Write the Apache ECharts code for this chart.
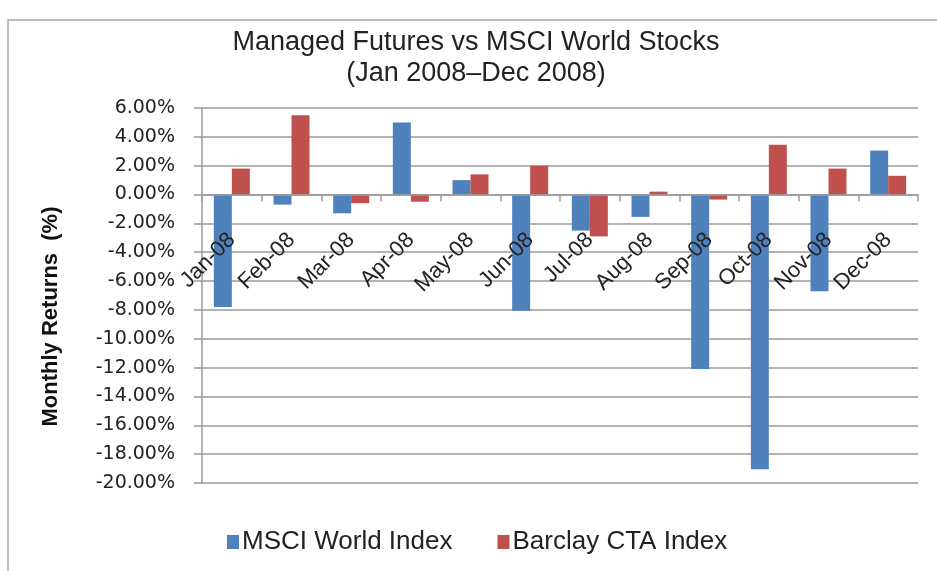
<!DOCTYPE html>
<html>
<head>
<meta charset="utf-8">
<script src="https://cdn.jsdelivr.net/npm/echarts@6/dist/echarts.min.js"></script>
<style>
    html, body { margin: 0; padding: 0; background: #ffffff; }
    #chart { width: 937px; height: 571px; }
</style>
</head>
<body>
<div id="chart"></div>
<script>
const months = ["Jan-08", "Feb-08", "Mar-08", "Apr-08", "May-08", "Jun-08",
    "Jul-08", "Aug-08", "Sep-08", "Oct-08", "Nov-08", "Dec-08"];

const msciWorld = [-7.8, -0.7, -1.3, 5.0, 1.0, -8.05, -2.5, -1.55, -12.1, -19.05, -6.7, 3.05];
const barclayCta = [1.8, 5.5, -0.6, -0.5, 1.4, 2.0, -2.9, 0.2, -0.35, 3.45, 1.8, 1.3];

const gridColor = "#9a9a9a";

// plot area
const plotTop = 108;
const plotBottom = 88;
const plotHeight = 571 - plotTop - plotBottom;
// y range is -20..6, the category axis sits on the zero line
const zeroOffset = -plotHeight * 20 / 26;

const chart = echarts.init(document.getElementById("chart"));

chart.setOption({
    backgroundColor: "#ffffff",
    animation: false,
    title: {
        text: "Managed Futures vs MSCI World Stocks\n(Jan 2008\u2013Dec 2008)",
        left: 471,
        textAlign: "center",
        top: 22,
        textStyle: {
            fontFamily: "Liberation Sans",
            fontWeight: "normal",
            fontSize: 27,
            lineHeight: 31,
            color: "#222222"
        }
    },
    legend: {
        top: 524,
        left: 222,
        itemWidth: 12,
        itemHeight: 14,
        itemGap: 45,
        icon: "rect",
        textStyle: {
            fontFamily: "Liberation Sans",
            fontSize: 26,
            color: "#222222",
            padding: [0, 0, 0, -2]
        },
        data: ["MSCI World Index", "Barclay CTA Index"]
    },
    graphic: [
        {
            type: "polyline",
            shape: { points: [[8, 571], [8, 20], [937, 20]] },
            style: { fill: null, stroke: "#a6a6a6", lineWidth: 1.5 },
            silent: true
        }
    ],
    grid: {
        left: 202,
        right: 19,
        top: plotTop,
        bottom: plotBottom
    },
    xAxis: {
        type: "category",
        data: months,
        position: "bottom",
        offset: zeroOffset,
        z: 5,
        axisLine: {
            onZero: false,
            lineStyle: { color: gridColor, width: 1.5 }
        },
        axisTick: {
            show: true,
            length: 7,
            lineStyle: { color: gridColor, width: 1.5 }
        },
        axisLabel: {
            interval: 0,
            rotate: 45,
            margin: 42,
            fontFamily: "Liberation Sans",
            fontSize: 22,
            color: "#222222"
        }
    },
    yAxis: {
        type: "value",
        min: -20,
        max: 6,
        interval: 2,
        name: "Monthly Returns  (%)",
        nameLocation: "middle",
        nameGap: 140,
        nameTextStyle: {
            fontFamily: "Liberation Sans",
            fontWeight: "bold",
            fontSize: 22,
            color: "#111111",
            padding: [0, 42, 0, 0]
        },
        axisLine: {
            show: true,
            lineStyle: { color: gridColor, width: 1.5 }
        },
        axisTick: {
            show: true,
            length: 8,
            lineStyle: { color: gridColor, width: 1.5 }
        },
        axisLabel: {
            margin: 27,
            fontFamily: "DejaVu Sans",
            fontSize: 19,
            color: "#222222",
            formatter: value => value.toFixed(2) + "%"
        },
        splitLine: {
            lineStyle: { color: gridColor, width: 1.5 }
        }
    },
    series: [
        {
            name: "MSCI World Index",
            type: "bar",
            data: msciWorld,
            barWidth: 18,
            barGap: "0%",
            itemStyle: { color: "#4f81bd" }
        },
        {
            name: "Barclay CTA Index",
            type: "bar",
            data: barclayCta,
            barWidth: 18,
            itemStyle: { color: "#c0504d" }
        }
    ]
});
</script>
</body>
</html>
